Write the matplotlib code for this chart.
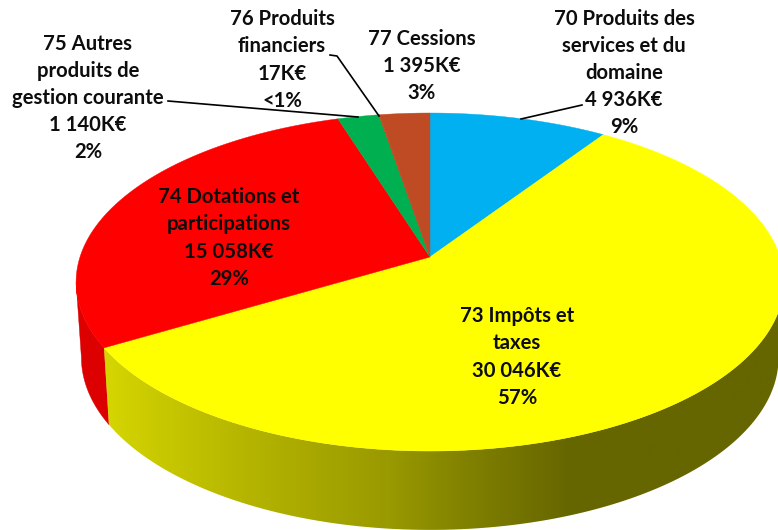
import numpy as np
import matplotlib
matplotlib.use('Agg')
import matplotlib.pyplot as plt
from matplotlib.colors import LinearSegmentedColormap
from matplotlib.patches import Polygon

plt.rcParams['font.family'] = ['Lato', 'DejaVu Sans']

# clockwise from the top
values = [4936, 30046, 15058, 1140, 17, 1395]
colors = ['#00B0F0', '#FFFF00', '#FF0000', '#00B050', '#BE4B23', '#BE4B23']
wall_colors = ['#008CC0', '#CCCC00', '#DC0000', '#008C40', '#983C1C', '#983C1C']

labels = ['70 Produits des\nservices et du\ndomaine\n4 936K€\n9%',
          '73 Impôts et\ntaxes\n30 046K€\n57%',
          '74 Dotations et\nparticipations\n15 058K€\n29%',
          '75 Autres\nproduits de\ngestion courante\n1 140K€\n2%',
          '76 Produits\nfinanciers\n17K€\n<1%',
          '77 Cessions\n1 395K€\n3%']
label_x = [624, 517, 229, 88, 282, 422]
label_y = [73, 357, 238, 98, 60, 66]

# yellow side shading, left to right
shade_x = [103, 160, 250, 310, 390, 470, 570, 778]
shade_c = ['#D6D600', '#C8C800', '#B4B400', '#A8A800', '#999900', '#808000', '#666600', '#666600']

cx, cy = 430, 257
R, a, b = 350, 165.3, 0.148


def disc(theta, sx=1.0, sy=1.0, dy=0.0):
    # tilted disc seen in perspective
    u, v = np.sin(theta), np.cos(theta)
    w = 1 + b * v
    return cx + sx * R * u / w, cy + dy - sy * a * v / w


fig = plt.figure(figsize=(7.78, 5.30), dpi=100)
ax = fig.add_axes([0, 0, 1, 1])
ax.set_xlim(0, 778)
ax.set_ylim(530, 0)
ax.axis('off')

edges = np.cumsum([0] + values) / sum(values) * 2 * np.pi

# side walls first, only the front part of the rim shows
for i in range(len(values)):
    t = np.linspace(edges[i], edges[i + 1], 400)
    t = t[np.cos(t) < -b]
    if len(t) < 2:
        continue
    x1, y1 = disc(t)
    x2, y2 = disc(t, 0.985, 1.02, 75)
    pts = np.column_stack([np.r_[x1, x2[::-1]], np.r_[y1, y2[::-1]]])
    if i == 1:
        pos = np.array(shade_x, dtype=float)
        pos = (pos - pos[0]) / (pos[-1] - pos[0])
        cmap = LinearSegmentedColormap.from_list('side', list(zip(pos, shade_c)))
        im = ax.imshow(np.linspace(0, 1, 512).reshape(1, -1), cmap=cmap, aspect='auto',
                       extent=(shade_x[0], shade_x[-1], 530, 0), zorder=2)
        im.set_clip_path(Polygon(pts, transform=ax.transData))
    else:
        ax.fill(pts[:, 0], pts[:, 1], color=wall_colors[i], lw=0.3, zorder=1)

# imshow resets the limits
ax.set_xlim(0, 778)
ax.set_ylim(530, 0)

for i in range(len(values)):
    t = np.linspace(edges[i], edges[i + 1], 300)
    x1, y1 = disc(t)
    ax.fill(np.r_[cx, x1], np.r_[cy, y1], color=colors[i], lw=0.3, zorder=3)

# leader lines
ax.plot([168, 358], [101, 117], color='black', lw=1.2, zorder=4)
ax.plot([330, 337, 379], [55, 56, 116], color='black', lw=1.2, zorder=4)
ax.plot([521, 582], [119, 105], color='black', lw=1.2, zorder=4)

for lab, x, y in zip(labels, label_x, label_y):
    ax.text(x, y, lab, ha='center', va='center', fontsize=14.6, fontweight='bold',
            color='#0D0D0D', linespacing=1.45, zorder=5)

fig.savefig('out.png', dpi=100)
